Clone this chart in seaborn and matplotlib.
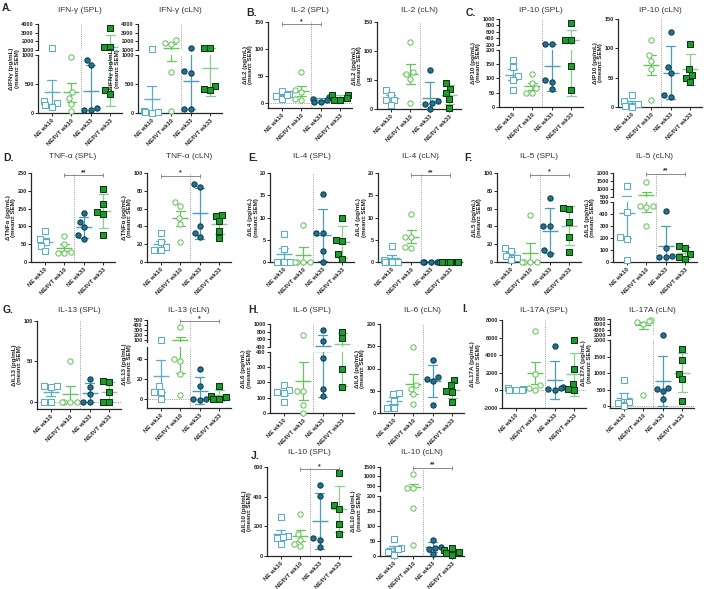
"""
Cytokine panels (SPL / cLN) for NE vs NE/IVT at wk10 and wk33.
Points = single animals, line = mean, error bar as in source figure
(SEM for wk10 groups, SD-sized for wk33 groups). Saves out.png.
"""
import warnings

import matplotlib

matplotlib.use("Agg")
import matplotlib.pyplot as plt  # noqa: E402
import pandas as pd  # noqa: E402
import seaborn as sns  # noqa: E402

warnings.filterwarnings("ignore")

GROUPS = ["NE wk10", "NE/IVT wk10", "NE wk33", "NE/IVT wk33"]

# --- data (pg/mL), one list per group in GROUPS order ---
IFNG_SPL = [[1200, 200, 170, 140, 110], [970, 365, 265, 160, 30],
            [915, 830, 90, 60, 45], [3500, 1400, 1380, 405, 335]]
IFNG_CLN = [[1150, 40, 20, 10, 5], [2200, 1800, 1700, 715, 40],
            [1200, 720, 685, 70, 70], [1300, 1300, 470, 410, 400]]
IL2_SPL = [[22, 16, 14, 8, 15], [57, 24, 21, 7, 6],
           [12, 7, 3, 3, 6], [15, 15, 9, 6, 6]]
IL2_CLN = [[32, 25, 16, 15, 7], [115, 63, 61, 52, 10],
           [67, 14, 10, 8, 0], [44, 35, 27, 18, 1]]
IP10_SPL = [[165, 140, 110, 95, 58], [115, 85, 65, 50, 48],
            [240, 240, 93, 87, 64], [870, 360, 340, 145, 60]]
IP10_CLN = [[20, 10, 5, 2, 0], [115, 88, 78, 65, 12],
            [128, 68, 58, 20, 17], [108, 65, 55, 50, 42]]
TNFA_SPL = [[88, 65, 57, 45, 30], [73, 50, 28, 25, 25],
            [138, 112, 98, 75, 65], [205, 162, 140, 135, 75]]
TNFA_CLN = [[33, 22, 17, 14, 13], [67, 63, 50, 43, 22],
            [88, 84, 40, 33, 28], [53, 52, 46, 35, 27]]
IL4_SPL = [[6.2, 3.0, 0, 0, 0], [8.4, 0, 0, 0, 0],
           [15.3, 6.6, 6.5, 2.4, 0], [10, 5, 4.7, 1.8, 0.7]]
IL4_CLN = [[3.5, 0.5, 0, 0, 0], [10.8, 5.6, 5.6, 3.4, 3.2],
           [0, 0, 0, 0, 0], [0, 0, 0, 0, 0]]
IL5_SPL = [[16, 12, 7, 5, 2], [53, 0, 0, 0, 0],
           [72, 41, 40, 13, 9], [61, 60, 45, 28, 11]]
IL5_CLN = [[1200, 417, 208, 190, 19], [1450, 472, 467, 458, 305],
           [425, 120, 50, 45, 40], [135, 115, 65, 40, 25]]
IL13_SPL = [[20, 20, 18, 0, 0], [50, 0, 0, 0, 0],
            [28, 18, 10, 0, 0], [26, 24, 12, 0, 0]]
IL13_CLN = [[88, 13, 7, 7, 0], [350, 40, 38, 25, 4],
            [30, 13, 0, 0, -1], [13, 3, 2, 0, 0]]
IL6_SPL = [[185, 150, 135, 130, 70], [700, 145, 145, 55, 0],
           [830, 560, 360, 155, 111], [800, 620, 286, 170]]
IL6_CLN = [[45, 42, 28, 12, 12], [148, 62, 55, 42, 20],
           [118, 80, 77, 72, 17], [75, 62, 50, 48, 25]]
IL17A_SPL = [[300, 150, 100, 50, 0], [6800, 1900, 600, 300, 100],
             [5000, 410, 220, 200, 0], [5760, 2470, 710, 150, 0]]
IL17A_CLN = [[780, 300, 120, 80, 0], [7500, 7300, 7000, 6000, 330],
             [2100, 546, 520, 449, 224], [1740, 1400, 975, 810, 156]]
IL10_SPL = [[265, 134, 129, 118, 84], [280, 150, 110, 80, 65],
            [480, 405, 122, 111, 61], [560, 345, 320, 215, 150]]
IL10_CLN = [[57, 28, 22, 15, 5], [1150, 400, 380, 161, 36],
            [55, 30, 28, 25, 8], [28, 20, 12, 10, 5]]

# significance bars: (from group, to group, label, height)
SIG_IL2_SPL = ("NE wk10", "NE wk33", "*", 146)
SIG_TNFA_SPL = ("NE/IVT wk10", "NE/IVT wk33", "**", 244)
SIG_TNFA_CLN = ("NE wk10", "NE wk33", "*", 97)
SIG_IL4_CLN = ("NE/IVT wk10", "NE/IVT wk33", "**", 19.5)
SIG_IL5_SPL = ("NE/IVT wk10", "NE/IVT wk33", "*", 98)
SIG_IL5_CLN = ("NE/IVT wk10", "NE/IVT wk33", "**", 1950)
SIG_IL13_CLN = ("NE/IVT wk10", "NE/IVT wk33", "*", 470)
SIG_IL10_SPL = ("NE/IVT wk10", "NE/IVT wk33", "*", 585)
SIG_IL10_CLN = ("NE/IVT wk10", "NE/IVT wk33", "**", 1450)

# --- styling --------------------------------------------------------------
FIG_W, FIG_H = 704, 589
AX_W = 84
GAP = 5
MARK = {
    "NE wk10": dict(marker="s", face="white", edge="#5AAEC6"),
    "NE/IVT wk10": dict(marker="o", face="white", edge="#66C45C"),
    "NE wk33": dict(marker="o", face="#1D7494", edge="#0E3A4A"),
    "NE/IVT wk33": dict(marker="s", face="#1E9A2F", edge="#0B3812"),
}
ERR = {"NE wk10": "#5AAEC6", "NE/IVT wk10": "#66C45C",
       "NE wk33": "#4A9EB6", "NE/IVT wk33": "#8CCB94"}
DOT = dict(color="#9a9a9a", linestyle=(0, (1, 1.3)), linewidth=0.7, zorder=1)


def frame(left, top, bottom):
    return [left / FIG_W, 1 - bottom / FIG_H, AX_W / FIG_W, (bottom - top) / FIG_H]


def long_df(values):
    rows = [(g, v) for g, vals in zip(GROUPS, values) for v in vals]
    return pd.DataFrame(rows, columns=["group", "value"])


def draw_points(ax, df):
    for g in GROUPS:
        sub = df[df.group == g]
        if sub.empty:
            continue
        st = MARK[g]
        sns.swarmplot(data=sub, x="group", y="value", order=GROUPS,
                      marker=st["marker"], color=st["face"],
                      edgecolor=st["edge"], linewidth=0.75, size=3.8,
                      clip_on=False, ax=ax)


def draw_means(ax, df):
    # wk10 groups -> SEM, wk33 groups -> spread as plotted in the source
    for groups, eb in ((GROUPS[:2], "se"), (GROUPS[2:], "sd")):
        sub = df[df.group.isin(groups)]
        sns.pointplot(data=sub, x="group", y="value", hue="group",
                      order=GROUPS, hue_order=GROUPS, palette=ERR,
                      errorbar=eb, capsize=0.45, marker="_", markersize=11,
                      markeredgewidth=1.0, linestyle="none",
                      err_kws={"linewidth": 0.9}, legend=False, ax=ax)


def style_ax(ax, lim, ticks, is_bottom):
    ax.set_xlim(-0.7, 3.6)
    ax.set_ylim(*lim)
    ax.set_yticks(ticks)
    ax.set_yticklabels([f"{t:g}" for t in ticks])
    ax.set_xlabel("")
    ax.set_ylabel("")
    ax.spines["top"].set_visible(False)
    ax.spines["right"].set_visible(False)
    ax.spines["left"].set_linewidth(0.9)
    ax.spines["bottom"].set_linewidth(0.9)
    ax.tick_params(axis="y", length=2, width=0.7, pad=1, labelsize=4.0)
    for lab in ax.get_yticklabels():
        lab.set_fontweight("bold")
    if is_bottom:
        ax.set_xticks(range(len(GROUPS)))
        ax.set_xticklabels(GROUPS, rotation=45, ha="right",
                           rotation_mode="anchor", fontsize=4.3,
                           fontweight="bold")
        ax.tick_params(axis="x", length=2, width=0.7, pad=1.5)
    else:
        ax.spines["bottom"].set_visible(False)
        ax.set_xticks([])
    ax.axvline(1.5, **DOT)
    ax.patch.set_alpha(0)


def draw_panel(fig, values, title, ylab, left, top, bottom, title_y,
               ylim=None, yticks=None, brk=None, zero=False, sig=None):
    df = long_df(values)
    if brk is None:
        ax = fig.add_axes(frame(left, top, bottom))
        segs = [(ax, ylim, yticks, True, df)]
    else:
        lo_lim, lo_ticks, hi_lim, hi_ticks, frac = brk
        low_h = (bottom - top) * frac
        ax_lo = fig.add_axes(frame(left, bottom - low_h, bottom))
        ax_hi = fig.add_axes(frame(left, top, bottom - low_h - GAP))
        segs = [(ax_lo, lo_lim, lo_ticks, True, df[df.value <= lo_lim[1]]),
                (ax_hi, hi_lim, hi_ticks, False, df[df.value > lo_lim[1]])]

    for ax, lim, ticks, is_bottom, pts in segs:
        draw_points(ax, pts)
        draw_means(ax, df)
        style_ax(ax, lim, ticks, is_bottom)
        if zero and is_bottom:
            ax.axhline(0, **DOT)

    if sig is not None:
        g1, g2, label, yv = sig
        i, j = GROUPS.index(g1), GROUPS.index(g2)
        for ax, lim, *_ in segs:
            if lim[0] <= yv <= lim[1]:
                ax.plot([i, j], [yv, yv], color="#8a8a8a", lw=0.7,
                        marker="|", markersize=3, markeredgewidth=0.7,
                        clip_on=False, zorder=4)
                ax.annotate(label, xy=((i + j) / 2, yv), xytext=(0, -0.5),
                            textcoords="offset points", ha="center",
                            va="bottom", fontsize=5.0, fontweight="bold",
                            color="#333333", annotation_clip=False)

    all_ticks = list(yticks or []) + (list(brk[1]) + list(brk[3]) if brk else [])
    nchar = max(len(f"{t:g}") for t in all_ticks)
    x_lab = left - (nchar * 3.3 + 10)
    fig.text(x_lab / FIG_W, 1 - (top + bottom) / 2 / FIG_H, ylab,
             rotation=90, ha="center", va="center", ma="center",
             fontsize=4.5, fontweight="bold", linespacing=1.15)
    fig.text((left + AX_W / 2) / FIG_W, 1 - title_y / FIG_H, title,
             ha="center", va="center", fontsize=6.0, color="#333333")


def ylab(name):
    return f"Δ{name} (pg/mL)\n(mean± SEM)"


def main():
    sns.set_theme(style="ticks")
    plt.rcParams["font.family"] = ["Liberation Sans", "DejaVu Sans"]
    fig = plt.figure(figsize=(FIG_W / 100, FIG_H / 100), dpi=100)

    # row 1 -----------------------------------------------------------------
    brk_a = ((0, 1000), [0, 500, 1000], (1000, 4000), [1000, 2000, 3000, 4000], 0.65)
    draw_panel(fig, IFNG_SPL, "IFN-γ (SPL)", ylab("IFNγ"), 38, 24, 113, 11, brk=brk_a)
    draw_panel(fig, IFNG_CLN, "IFN-γ (cLN)", ylab("IFNγ"), 138, 24, 113, 11, brk=brk_a)
    draw_panel(fig, IL2_SPL, "IL-2 (SPL)", ylab("IL2"), 268, 22, 108, 11,
               ylim=(-9, 150), yticks=[0, 50, 100, 150], zero=True, sig=SIG_IL2_SPL)
    draw_panel(fig, IL2_CLN, "IL-2 (cLN)", ylab("IL2"), 377, 22, 109, 11,
               ylim=(0, 150), yticks=[0, 50, 100, 150])
    draw_panel(fig, IP10_SPL, "IP-10 (SPL)", ylab("IP10"), 499, 19, 107, 11,
               brk=((0, 200), [0, 50, 100, 150, 200], (200, 1000),
                    [200, 400, 600, 800, 1000], 0.65))
    draw_panel(fig, IP10_CLN, "IP-10 (cLN)", ylab("IP10"), 618, 19, 107, 11,
               ylim=(0, 150), yticks=[0, 50, 100, 150])

    # row 2 -----------------------------------------------------------------
    draw_panel(fig, TNFA_SPL, "TNF-α (SPL)", ylab("TNFα"), 31, 173, 262, 157,
               ylim=(0, 250), yticks=[0, 50, 100, 150, 200, 250], sig=SIG_TNFA_SPL)
    draw_panel(fig, TNFA_CLN, "TNF-α (cLN)", ylab("TNFα"), 147, 173, 262, 157,
               ylim=(0, 100), yticks=[0, 20, 40, 60, 80, 100], sig=SIG_TNFA_CLN)
    draw_panel(fig, IL4_SPL, "IL-4 (SPL)", ylab("IL4"), 270, 173, 262, 157,
               ylim=(0, 20), yticks=[0, 5, 10, 15, 20])
    draw_panel(fig, IL4_CLN, "IL-4 (cLN)", ylab("IL4"), 378, 173, 262, 157,
               ylim=(0, 20), yticks=[0, 5, 10, 15, 20], sig=SIG_IL4_CLN)
    draw_panel(fig, IL5_SPL, "IL-5 (SPL)", ylab("IL5"), 497, 173, 262, 157,
               ylim=(0, 100), yticks=[0, 20, 40, 60, 80, 100], sig=SIG_IL5_SPL)
    draw_panel(fig, IL5_CLN, "IL-5 (cLN)", ylab("IL5"), 613, 173, 262, 157,
               brk=((0, 500), [0, 100, 200, 300, 400, 500], (500, 2000),
                    [500, 1000, 1500, 2000], 0.67), sig=SIG_IL5_CLN)

    # row 3 -----------------------------------------------------------------
    draw_panel(fig, IL13_SPL, "IL-13 (SPL)", ylab("IL13"), 37, 321, 409, 310,
               ylim=(-9, 100), yticks=[0, 50, 100], zero=True)
    draw_panel(fig, IL13_CLN, "IL-13 (cLN)", ylab("IL13"), 147, 320, 408, 310,
               brk=((-9, 52), [0, 20, 40], (52, 500), [100, 200, 300, 400, 500], 0.69),
               zero=True, sig=SIG_IL13_CLN)
    draw_panel(fig, IL6_SPL, "IL-6 (SPL)", ylab("IL6"), 270, 324, 413, 310,
               brk=((0, 400), [0, 100, 200, 300, 400], (400, 1000),
                    [400, 600, 800, 1000], 0.69))
    draw_panel(fig, IL6_CLN, "IL-6 (cLN)", ylab("IL6"), 380, 324, 413, 310,
               ylim=(0, 200), yticks=[0, 50, 100, 150, 200])
    draw_panel(fig, IL17A_SPL, "IL-17A (SPL)", ylab("IL17A"), 502, 320, 408, 310,
               ylim=(-2000, 8000), yticks=[-2000, 0, 2000, 4000, 6000, 8000], zero=True)
    draw_panel(fig, IL17A_CLN, "IL-17A (cLN)", ylab("IL17A"), 610, 319, 408, 310,
               brk=((-60, 2000), [0, 500, 1000, 1500, 2000], (2000, 8000),
                    [2000, 4000, 6000, 8000], 0.76), zero=True)

    # row 4 -----------------------------------------------------------------
    draw_panel(fig, IL10_SPL, "IL-10 (SPL)", ylab("IL10"), 267, 467, 556, 453,
               ylim=(0, 600), yticks=[0, 200, 400, 600], sig=SIG_IL10_SPL)
    draw_panel(fig, IL10_CLN, "IL-10 (cLN)", ylab("IL10"), 380, 467, 556, 453,
               brk=((0, 200), [0, 50, 100, 150, 200], (200, 1500),
                    [500, 1000, 1500], 0.67), sig=SIG_IL10_CLN)

    # panel letters
    for letter, x, y in [("A.", 2, 8), ("B.", 246, 13), ("C.", 466, 13),
                         ("D.", 3, 158), ("E.", 248, 158), ("F.", 464, 158),
                         ("G.", 3, 310), ("H.", 248, 310), ("I.", 462, 309),
                         ("J.", 251, 456)]:
        fig.text(x / FIG_W, 1 - y / FIG_H, letter, ha="left", va="center",
                 fontsize=7.5, fontweight="bold")

    fig.savefig("out.png", dpi=100)
    plt.close(fig)


if __name__ == "__main__":
    main()
